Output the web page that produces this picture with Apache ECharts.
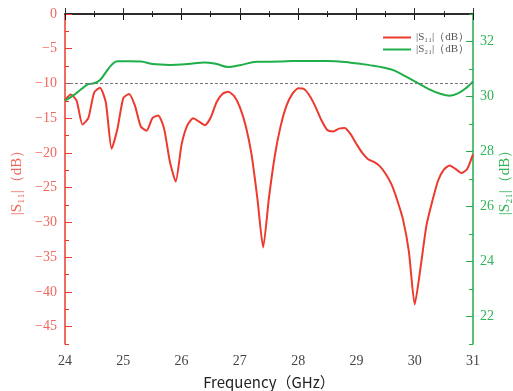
<!DOCTYPE html>
<html>
<head>
<meta charset="utf-8">
<script src="https://cdn.jsdelivr.net/npm/echarts@6/dist/echarts.min.js"></script>
<style>
  html, body { margin: 0; padding: 0; background: #fff; }
  #chart { width: 513px; height: 391px; }
</style>
</head>
<body>
<div id="chart"></div>
<script>
// |S11| samples (GHz, dB)
const s11Freq = [24.0, 24.1, 24.2, 24.3, 24.4, 24.5, 24.6, 24.7, 24.8, 24.9,
  25.0, 25.1, 25.2, 25.3, 25.4, 25.5, 25.6, 25.7, 25.8, 25.9,
  26.0, 26.1, 26.2, 26.3, 26.4, 26.5, 26.6, 26.7, 26.8, 26.9,
  27.0, 27.1, 27.2, 27.3, 27.4, 27.5, 27.6, 27.7, 27.8, 27.9,
  28.0, 28.1, 28.2, 28.3, 28.4, 28.5, 28.6, 28.7, 28.8, 28.9,
  29.0, 29.1, 29.2, 29.3, 29.4, 29.5, 29.6, 29.7, 29.8, 29.9,
  30.0, 30.1, 30.2, 30.3, 30.4, 30.5, 30.6, 30.7, 30.8, 30.9, 31.0];
const s11Values = [-12.4, -11.6, -12.5, -15.9, -15.0, -11.3, -10.6, -12.7, -19.4, -16.5,
  -12.1, -11.5, -13.2, -16.2, -16.8, -15.0, -14.6, -16.5, -21.3, -24.1,
  -18.8, -16.0, -15.0, -15.5, -16.0, -14.9, -12.7, -11.5, -11.2, -11.8,
  -13.4, -16.1, -20.2, -26.5, -33.6, -26.4, -20.4, -16.1, -13.2, -11.5,
  -10.7, -10.8, -11.8, -13.4, -15.3, -16.7, -16.9, -16.5, -16.4, -17.3,
  -18.7, -20.0, -20.9, -21.3, -21.9, -23.0, -24.5, -26.8, -29.6, -34.2,
  -41.8, -36.5, -30.5, -27.0, -24.0, -22.4, -21.8, -22.3, -22.9, -22.3, -20.2];

// |S21| samples (GHz, dB)
const s21Freq = [24.0, 24.15, 24.3, 24.4, 24.5, 24.6, 24.7, 24.8, 24.9, 25.1,
  25.3, 25.5, 25.8, 26.1, 26.4, 26.6, 26.8, 27.0, 27.3, 27.7,
  27.9, 28.5, 28.9, 29.2, 29.6, 29.8, 30.0, 30.25, 30.45, 30.6,
  30.75, 30.9, 31.0];
const s21Values = [29.85, 30.05, 30.3, 30.45, 30.48, 30.6, 30.88, 31.15, 31.28, 31.28,
  31.27, 31.18, 31.15, 31.18, 31.24, 31.18, 31.07, 31.14, 31.26, 31.27,
  31.29, 31.29, 31.23, 31.15, 30.98, 30.78, 30.55, 30.26, 30.09, 30.03,
  30.12, 30.34, 30.55];

// tick labels
const s11Ticks = [0, -5, -10, -15, -20, -25, -30, -35, -40, -45];
const s21Ticks = [22, 24, 26, 28, 30, 32];

const refLevel = -10;

const colors = {
  red: "#ec3a2e",
  redText: "#f0675c",
  green: "#1fae48",
  greenText: "#2fb456",
  ink: "#222222",
  grey: "#777777"
};

const serif = "'Liberation Serif', 'DejaVu Serif', serif";

const pairs = (xs, ys) => xs.map((x, i) => [x, ys[i]]);

const s11Range = { min: -47.5, max: 0 };
const s21Range = { min: 21, max: 33 };

// overlay axis that only draws the long (major) ticks
const majorTicks = (range, position, color, values) => ({
  type: "value",
  position,
  ...range,
  axisLine: { show: false },
  axisTick: { show: true, inside: true, length: 7, customValues: values, lineStyle: { color } },
  axisLabel: { show: false },
  splitLine: { show: false }
});

const chart = echarts.init(document.getElementById("chart"), null, { renderer: "canvas" });

chart.setOption({
  animation: false,
  backgroundColor: "#ffffff",
  grid: { left: 65, right: 40, top: 14, bottom: 47, outerBoundsMode: "none", containLabel: false },
  legend: {
    left: 378,
    top: 27,
    orient: "vertical",
    icon: "rect",
    itemWidth: 28,
    itemHeight: 2,
    itemGap: 1,
    textStyle: { color: "#555", fontFamily: serif, fontSize: 11 },
    data: ["|S₁₁|（dB）", "|S₂₁|（dB）"]
  },
  xAxis: [
    {
      type: "value",
      min: 24,
      max: 31,
      interval: 1,
      name: "Frequency（GHz）",
      nameLocation: "middle",
      nameGap: 31,
      nameMoveOverlap: false,
      nameTextStyle: { color: colors.ink, fontSize: 15, fontFamily: "'Noto Sans CJK JP', 'Noto Sans', sans-serif" },
      axisLine: { lineStyle: { color: "#555", type: [3, 1], width: 1.5 } },
      axisTick: { inside: true, length: 6, lineStyle: { color: "#333" } },
      minorTick: { show: true, splitNumber: 2, length: 3, lineStyle: { color: "#333" } },
      axisLabel: { color: "#444", fontFamily: serif, fontSize: 14, margin: 10 },
      splitLine: { show: false }
    },
    {
      type: "value",
      position: "top",
      min: 24,
      max: 31,
      interval: 1,
      axisLine: { show: true, onZero: false, lineStyle: { color: "#111", width: 1.5 } },
      axisTick: { inside: true, length: 6, lineStyle: { color: "#111" } },
      minorTick: { show: true, splitNumber: 2, length: 3, lineStyle: { color: "#111" } },
      axisLabel: { show: false },
      splitLine: { show: false }
    }
  ],
  yAxis: [
    {
      type: "value",
      ...s11Range,
      interval: 2.5,
      name: "|S₁₁|（dB）",
      nameLocation: "middle",
      nameRotate: 90,
      nameGap: 40,
      nameMoveOverlap: false,
      nameTextStyle: { color: colors.redText, fontSize: 15, fontFamily: serif },
      axisLine: { show: true, onZero: false, lineStyle: { color: colors.red, width: 1.5 } },
      axisTick: { inside: true, length: 4, lineStyle: { color: colors.red } },
      axisLabel: {
        color: colors.redText, fontFamily: serif, fontSize: 14, margin: 8,
        customValues: s11Ticks,
        formatter: v => String(v).replace("-", "−")
      },
      splitLine: { show: false }
    },
    {
      type: "value",
      ...s21Range,
      interval: 1,
      position: "right",
      name: "|S₂₁|（dB）",
      nameLocation: "middle",
      nameRotate: 90,
      nameGap: 25,
      nameMoveOverlap: false,
      nameTextStyle: { color: colors.greenText, fontSize: 15, fontFamily: serif },
      axisLine: { show: true, onZero: false, lineStyle: { color: colors.green, width: 1.5 } },
      axisTick: { inside: true, length: 4, lineStyle: { color: colors.green } },
      axisLabel: {
        color: colors.greenText, fontFamily: serif, fontSize: 14, margin: 7,
        customValues: s21Ticks
      },
      splitLine: { show: false }
    },
    majorTicks(s11Range, "left", colors.red, s11Ticks),
    majorTicks(s21Range, "right", colors.green, s21Ticks)
  ],
  series: [
    {
      name: "|S₁₁|（dB）",
      type: "line",
      xAxisIndex: 0,
      yAxisIndex: 0,
      data: pairs(s11Freq, s11Values),
      symbol: "none",
      smooth: 0.2,
      lineStyle: { color: colors.red, width: 2 },
      itemStyle: { color: colors.red },
      markLine: {
        silent: true,
        symbol: "none",
        label: { show: false },
        lineStyle: { color: colors.grey, type: [3, 2], width: 1 },
        data: [{ yAxis: refLevel }]
      }
    },
    {
      name: "|S₂₁|（dB）",
      type: "line",
      xAxisIndex: 0,
      yAxisIndex: 1,
      data: pairs(s21Freq, s21Values),
      symbol: "none",
      smooth: 0.4,
      lineStyle: { color: colors.green, width: 2 },
      itemStyle: { color: colors.green }
    }
  ]
});
</script>
</body>
</html>
